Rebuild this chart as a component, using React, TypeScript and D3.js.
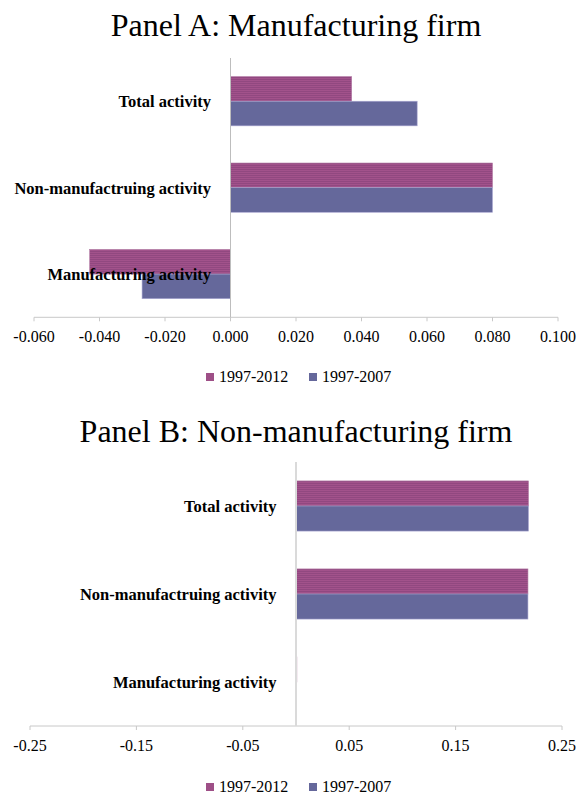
import React from "react";
import * as d3 from "d3";

const categories = ["Total activity", "Non-manufactruing activity", "Manufacturing activity"];
const seriesNames = ["1997-2012", "1997-2007"];

const panelATitle = "Panel A: Manufacturing firm";
const panelA_1997_2012 = [0.037, 0.080, -0.043];
const panelA_1997_2007 = [0.057, 0.080, -0.027];
const panelATicks = [-0.06, -0.04, -0.02, 0.0, 0.02, 0.04, 0.06, 0.08, 0.1];

const panelBTitle = "Panel B: Non-manufacturing firm";
const panelB_1997_2012 = [0.2185, 0.218, 0.0008];
const panelB_1997_2007 = [0.2185, 0.218, 0.0005];
const panelBTicks = [-0.25, -0.15, -0.05, 0.05, 0.15, 0.25];

const FONT = "'Liberation Serif', 'Times New Roman', serif";
const PINK = "#9E4F87";
const BLUE = "#65689B";

type PanelProps = {
  title: string;
  titleY: number;
  s1: number[];
  s2: number[];
  ticks: number[];
  domain: [number, number];
  xRange: [number, number];
  plotTop: number;
  axisY: number;
  tickFmt: (v: number) => string;
  legendY: number;
  zeroWidth: number;
  zeroColor: string;
};

function Panel(p: PanelProps) {
  const x = d3.scaleLinear().domain(p.domain).range(p.xRange);
  const y = d3
    .scaleBand<string>()
    .domain(categories)
    .range([p.plotTop, p.axisY])
    .paddingInner(0.43)
    .paddingOuter(0.215);
  const bw = y.bandwidth() / 2;
  const x0 = x(0);
  const series = [
    { name: seriesNames[0], values: p.s1, fill: "url(#pinkStripe)", stroke: "#B27AA4" },
    { name: seriesNames[1], values: p.s2, fill: BLUE, stroke: "#ABA8D2" },
  ];
  return (
    <g>
      <text x={296} y={p.titleY} textAnchor="middle" fontFamily={FONT} fontSize={32} fill="#000">
        {p.title}
      </text>
      {/* x axis */}
      <line x1={p.xRange[0]} x2={p.xRange[1]} y1={p.axisY} y2={p.axisY} stroke="#C8C8C8" strokeWidth={1} />
      {p.ticks.map((t) => (
        <g key={t}>
          <line x1={x(t)} x2={x(t)} y1={p.axisY} y2={p.axisY + 4} stroke="#C8C8C8" strokeWidth={1} />
          <text x={x(t)} y={p.axisY + 25} textAnchor="middle" fontFamily={FONT} fontSize={16} fill="#000">
            {p.tickFmt(t)}
          </text>
        </g>
      ))}
      {/* bars */}
      {series.map((s, si) =>
        categories.map((c, ci) => {
          const v = s.values[ci];
          const xa = Math.min(x(v), x0);
          const w = Math.max(Math.abs(x(v) - x0), 0.6);
          return (
            <rect
              key={s.name + c}
              x={xa}
              y={(y(c) as number) + si * bw}
              width={w}
              height={bw}
              fill={s.fill}
              stroke={s.stroke}
              strokeWidth={0.6}
            />
          );
        })
      )}
      {/* vertical zero axis */}
      <line x1={x0} x2={x0} y1={p.plotTop} y2={p.axisY} stroke={p.zeroColor} strokeWidth={p.zeroWidth} />
      {/* category labels */}
      {categories.map((c) => (
        <text
          key={c}
          x={x0 - 19.5}
          y={(y(c) as number) + y.bandwidth() / 2 + 6}
          textAnchor="end"
          fontFamily={FONT}
          fontWeight="bold"
          fontSize={16.5}
          fill="#000"
        >
          {c}
        </text>
      ))}
      {/* legend */}
      <rect x={206} y={p.legendY - 9} width={8} height={8} fill={PINK} />
      <text x={219} y={p.legendY} fontFamily={FONT} fontSize={16} fill="#000">
        {seriesNames[0]}
      </text>
      <rect x={309} y={p.legendY - 9} width={8} height={8} fill={BLUE} />
      <text x={322} y={p.legendY} fontFamily={FONT} fontSize={16} fill="#000">
        {seriesNames[1]}
      </text>
    </g>
  );
}

export default function App() {
  return (
    <svg
      width={577}
      height={797}
      viewBox="0 0 577 797"
      style={{ position: "absolute", left: 0, top: 0, background: "#fff" }}
    >
      <defs>
        <pattern id="pinkStripe" patternUnits="userSpaceOnUse" width={4} height={2}>
          <rect x={0} y={0} width={4} height={2} fill="#A2528B" />
          <rect x={0} y={1} width={4} height={1} fill="#914880" />
        </pattern>
      </defs>
      <rect x={0} y={0} width={577} height={797} fill="#fff" />
      <Panel
        title={panelATitle}
        titleY={36}
        s1={panelA_1997_2012}
        s2={panelA_1997_2007}
        ticks={panelATicks}
        domain={[-0.06, 0.1]}
        xRange={[34, 558]}
        plotTop={58}
        axisY={317.3}
        tickFmt={(v) => d3.format(".3f")(v).replace("−", "-")}
        legendY={382}
        zeroWidth={1}
        zeroColor="#BDBDBD"
      />
      <Panel
        title={panelBTitle}
        titleY={442}
        s1={panelB_1997_2012}
        s2={panelB_1997_2007}
        ticks={panelBTicks}
        domain={[-0.25, 0.25]}
        xRange={[30, 562]}
        plotTop={462}
        axisY={726}
        tickFmt={(v) => d3.format(".2f")(v).replace("−", "-")}
        legendY={792}
        zeroWidth={2}
        zeroColor="#DADADA"
      />
    </svg>
  );
}
